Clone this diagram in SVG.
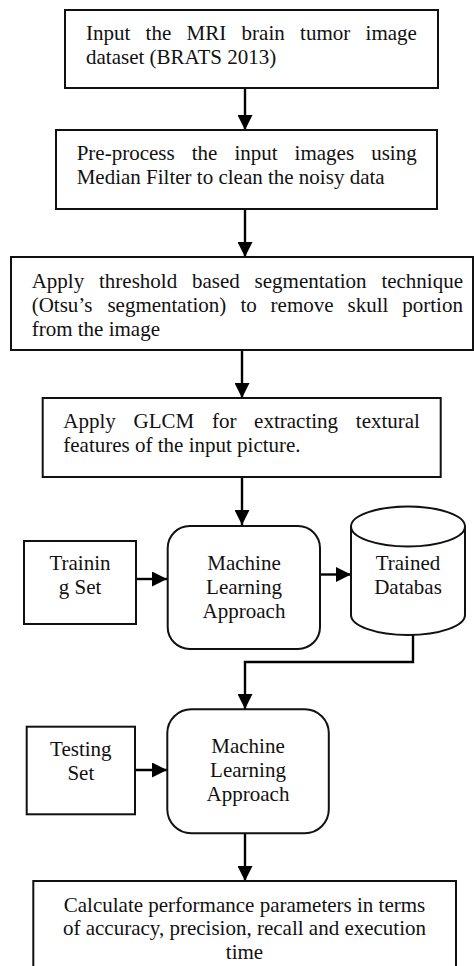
<svg xmlns="http://www.w3.org/2000/svg" width="474" height="966" viewBox="0 0 474 966">
<defs>
<marker id="ah" viewBox="0 0 15 15" refX="15" refY="7.5" markerWidth="15" markerHeight="15" markerUnits="userSpaceOnUse" orient="auto">
<path d="M0,0 L15,7.5 L0,15 z" fill="#000"/>
</marker>
</defs>
<style>
.box{fill:#fff;stroke:#111;stroke-width:2}
.t{font-family:"Liberation Serif","Times New Roman",serif;font-size:21px;fill:#111}
.c{text-anchor:middle}
.conn{fill:none;stroke:#000;stroke-width:2.4;marker-end:url(#ah)}
</style>
<rect width="474" height="966" fill="#fff"/>

<g id="connectors">
<line class="conn" x1="245" y1="88" x2="245" y2="130"/>
<line class="conn" x1="245" y1="209" x2="245" y2="257"/>
<line class="conn" x1="242" y1="350" x2="242" y2="398"/>
<line class="conn" x1="242" y1="477" x2="242" y2="525"/>
<line class="conn" x1="136" y1="579" x2="167" y2="579"/>
<line class="conn" x1="320" y1="574.5" x2="351" y2="574.5"/>
<polyline class="conn" points="413,635 413,662 245,662 245,709"/>
<line class="conn" x1="133" y1="770" x2="167" y2="770"/>
<line class="conn" x1="245" y1="833" x2="245" y2="881"/>
</g>

<g id="n1">
<rect class="box" x="65" y="10" width="373" height="78"/>
<text class="t" y="40"><tspan x="86">Input</tspan><tspan x="145.6">the</tspan><tspan x="186.6">MRI</tspan><tspan x="241.6">brain</tspan><tspan x="300.1">tumor</tspan><tspan x="365.6">image</tspan></text>
<text class="t" x="86" y="64">dataset (BRATS 2013)</text>
</g>

<g id="n2">
<rect class="box" x="56" y="130" width="381" height="79"/>
<text class="t" y="160"><tspan x="76.7">Pre-process</tspan><tspan x="191.7">the</tspan><tspan x="234.4">input</tspan><tspan x="294.6">images</tspan><tspan x="371.2">using</tspan></text>
<text class="t" x="76.7" y="184">Median Filter to clean the noisy data</text>
</g>

<g id="n3">
<rect class="box" x="11" y="257" width="462" height="93"/>
<text class="t" y="288"><tspan x="31.7">Apply</tspan><tspan x="99">threshold</tspan><tspan x="192">based</tspan><tspan x="254.6">segmentation</tspan><tspan x="381.4">technique</tspan></text>
<text class="t" y="312"><tspan x="31.7">(Otsu’s</tspan><tspan x="107.4">segmentation)</tspan><tspan x="240.4">to</tspan><tspan x="270.6">remove</tspan><tspan x="347.6">skull</tspan><tspan x="402.3">portion</tspan></text>
<text class="t" x="31.7" y="336">from the image</text>
</g>

<g id="n4">
<rect class="box" x="42.7" y="398" width="398" height="79"/>
<text class="t" y="428"><tspan x="63.3">Apply</tspan><tspan x="133.5">GLCM</tspan><tspan x="211.9">for</tspan><tspan x="254.1">extracting</tspan><tspan x="355.8">textural</tspan></text>
<text class="t" x="63.3" y="452">features of the input picture.</text>
</g>

<g id="training">
<rect class="box" x="24" y="541" width="112" height="83"/>
<text class="t c" x="80" y="570">Trainin</text>
<text class="t c" x="80" y="594">g Set</text>
</g>

<g id="ml1">
<rect class="box" x="167.7" y="526" width="152.3" height="123" rx="22" ry="22"/>
<text class="t c" x="244" y="570">Machine</text>
<text class="t c" x="244" y="594">Learning</text>
<text class="t c" x="244" y="618">Approach</text>
</g>

<g id="db">
<path class="box" d="M351,526.5 A57,20 0 0 1 465,526.5 L465,615 A57,20 0 0 1 351,615 Z"/>
<path d="M351,526.5 A57,20 0 0 0 465,526.5" fill="none" stroke="#111" stroke-width="2"/>
<text class="t c" x="408" y="569.5">Trained</text>
<text class="t c" x="408" y="594">Databas</text>
</g>

<g id="testing">
<rect class="box" x="26.7" y="726.7" width="108.3" height="87.6"/>
<text class="t c" x="80.8" y="756">Testing</text>
<text class="t c" x="80.8" y="780">Set</text>
</g>

<g id="ml2">
<rect class="box" x="167.3" y="709.3" width="161.5" height="124" rx="24" ry="24"/>
<text class="t c" x="248" y="753">Machine</text>
<text class="t c" x="248" y="777">Learning</text>
<text class="t c" x="248" y="801">Approach</text>
</g>

<g id="n5">
<rect class="box" x="33.3" y="881" width="422.7" height="100"/>
<text class="t c" x="244.5" y="911.5">Calculate performance parameters in terms</text>
<text class="t c" x="244.5" y="935">of accuracy, precision, recall and execution</text>
<text class="t c" x="244.5" y="958.5">time</text>
</g>
</svg>
